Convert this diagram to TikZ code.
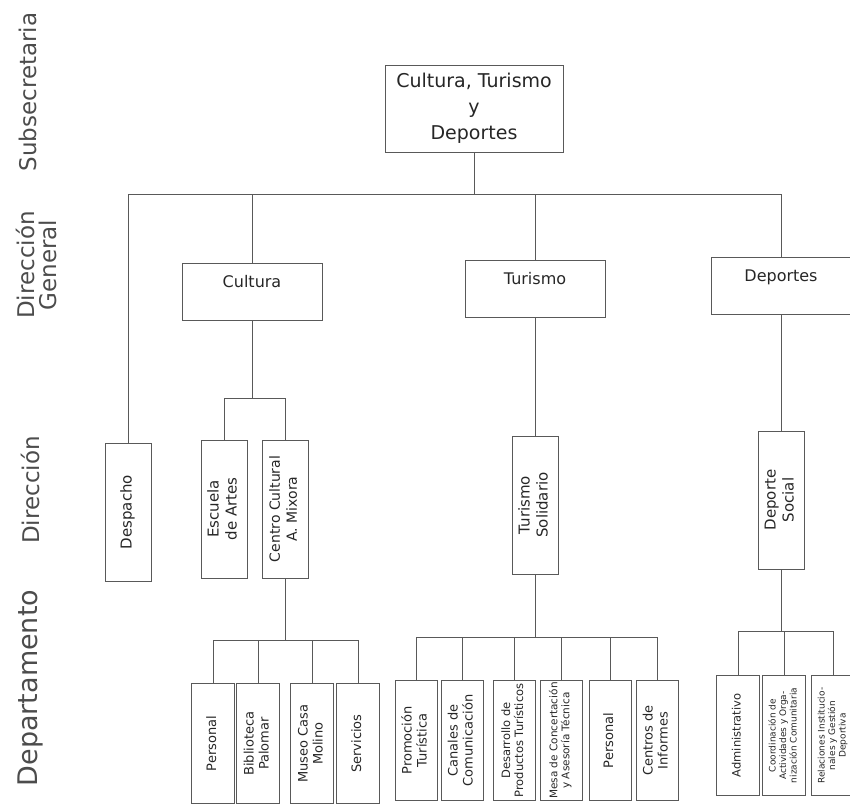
\documentclass[tikz,border=0pt]{standalone}
\usepackage{fontspec}
\setmainfont{DejaVu Sans}
\usepackage{graphicx}
\newcommand{\fsz}[2]{\fontsize{#1}{#2}\selectfont}
\newcommand{\vtxt}[1]{\rotatebox{90}{\begin{tabular}{@{}c@{}}#1\end{tabular}}}

\begin{document}
\begin{tikzpicture}
  [x=1pt,y=-1pt,line width=1pt,draw=black!65,
   every node/.style={draw=black!65,rectangle,inner sep=1pt,text=black!85},
   lvl/.style={draw=none,rotate=90,text=black!70,align=center},
   gen/.style={minimum width=140pt,text height=19pt,text depth=28pt,
     inner sep=5pt,anchor=north,font=\fsz{16}{19}},
   dir/.style={minimum width=46pt,minimum height=138pt,font=\fsz{15}{18}},
   dpt/.style={minimum width=43pt,minimum height=120pt,anchor=north,
     font=\fsz{13}{15}}]
  \useasboundingbox (0,0) rectangle (850,807);
  % levels
  \node[lvl,font=\fsz{23}{26}] (lsub) at (28,92) {Subsecretaria};
  \node[lvl,font=\fsz{23}{22}] (lgen) at (36,265) {Dirección\\General};
  \node[lvl,font=\fsz{23}{26}] (ldir) at (30,490) {Dirección};
  \node[lvl,font=\fsz{27}{30}] (ldpt) at (30,688) {Departamento};
  % subsecretaria
  \node[minimum width=178pt,minimum height=87pt,align=center,
    font=\fsz{19}{26}] (sub) at (474,108.5) {Cultura, Turismo\\y\\Deportes};
  % direccion general
  \node[gen] (cul) at (252,263) {Cultura};
  \node[gen] (tur) at (535,260) {Turismo};
  \node[gen] (dep) at (781,257) {Deportes};
  % direccion
  \node[dir] (desp) at (128,512) {\vtxt{Despacho}};
  \node[dir] (esc) at (224,509) {\vtxt{Escuela\\de Artes}};
  \node[dir,font=\fsz{14}{17}] (ccm) at (285,509) {\vtxt{Centro Cultural\\A. Mixora}};
  \node[dir] (sol) at (535,505) {\vtxt{Turismo\\Solidario}};
  \node[dir] (soc) at (781,500) {\vtxt{Deporte\\Social}};
  % departamento
  \node[dpt] (cpe) at (213,683) {\vtxt{Personal}};
  \node[dpt] (cbi) at (258,683) {\vtxt{Biblioteca\\Palomar}};
  \node[dpt] (cmu) at (312,683) {\vtxt{Museo Casa\\Molino}};
  \node[dpt] (cse) at (358,683) {\vtxt{Servicios}};
  \node[dpt,minimum width=42pt] (tpr) at (416,680) {\vtxt{Promoción\\Turística}};
  \node[dpt,minimum width=42pt] (tca) at (462,680) {\vtxt{Canales de\\Comunicación}};
  \node[dpt,minimum width=42pt,font=\fsz{11.5}{13}] (tde) at (514,680)
    {\vtxt{Desarrollo de\\Productos Turísticos}};
  \node[dpt,minimum width=42pt,font=\fsz{10.5}{12}] (tme) at (561,680)
    {\vtxt{Mesa de Concertación\\y Asesoría Técnica}};
  \node[dpt,minimum width=42pt] (tpe) at (610,680) {\vtxt{Personal}};
  \node[dpt,minimum width=42pt] (tce) at (657,680) {\vtxt{Centros de\\Informes}};
  \node[dpt,font=\fsz{11.5}{13}] (dad) at (738,675) {\vtxt{Administrativo}};
  \node[dpt,font=\fsz{9}{10.5}] (dco) at (784,675)
    {\vtxt{Coordinación de\\Actividades y Orga-\\nización Comunitaria}};
  \node[dpt,font=\fsz{9}{10.5}] (dre) at (833,675)
    {\vtxt{Relaciones Institucio-\\nales y Gestión\\Deportiva}};
  % junctions
  \coordinate (jsub) at (474,194);
  \coordinate (jcul) at (252,398);
  \coordinate (jccm) at (285,640);
  \coordinate (jsol) at (535,637);
  \coordinate (jsoc) at (781,631);
  % connectors
  \draw (sub.south) -- (jsub);
  \draw (desp.north |- jsub) -- (dep.north |- jsub);
  \foreach \to in {desp,cul,tur,dep}
    \draw (\to.north |- jsub) -- (\to.north);
  \draw (cul.south) -- (jcul);
  \draw (esc.north |- jcul) -- (ccm.north |- jcul);
  \draw (ccm.south) -- (jccm);
  \draw (cpe.north |- jccm) -- (cse.north |- jccm);
  \draw (tur.south) -- (sol.north);
  \draw (sol.south) -- (jsol);
  \draw (tpr.north |- jsol) -- (tce.north |- jsol);
  \draw (dep.south) -- (soc.north);
  \draw (soc.south) -- (jsoc);
  \draw (dad.north |- jsoc) -- (dre.north |- jsoc);
  \foreach \from/\to in {jcul/esc,jcul/ccm,jccm/cpe,jccm/cbi,jccm/cmu,jccm/cse,
      jsol/tpr,jsol/tca,jsol/tde,jsol/tme,jsol/tpe,jsol/tce,
      jsoc/dad,jsoc/dco,jsoc/dre}
    \draw (\to.north |- \from) -- (\to.north);
\end{tikzpicture}
\end{document}
